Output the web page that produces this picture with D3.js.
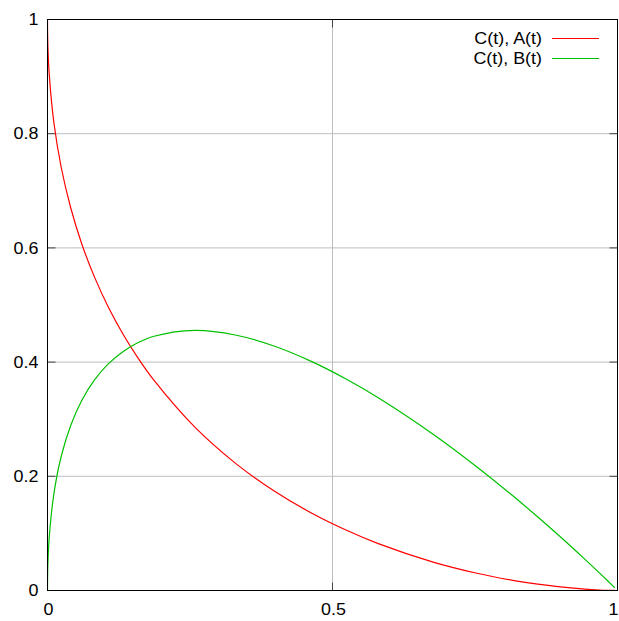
<!DOCTYPE html>
<html>
<head>
<meta charset="utf-8">
<script src="https://cdn.jsdelivr.net/npm/d3@7"></script>
<style>
  html, body { margin: 0; padding: 0; background: #fff; }
  svg { display: block; }
  text { font-family: "Liberation Sans", Arial, Helvetica, sans-serif; fill: #000; }
</style>
</head>
<body>
<svg id="chart" width="619" height="621"></svg>
<script>
// Sampled curve values along the parameter t (same index in each array)
const C_vals = [0, 0.00003, 0.00012, 0.00077, 0.00299, 0.0113, 0.0241, 0.0407, 0.0603, 0.0825,
                0.1066, 0.1323, 0.1592, 0.1870, 0.2581, 0.3294, 0.3984, 0.4638, 0.5246, 0.5803,
                0.6765, 0.7534, 0.8137, 0.8602, 0.8957, 0.9425, 0.9687, 0.9831, 0.9909, 0.9951];
const A_vals = [1, 0.9901, 0.9802, 0.9512, 0.9048, 0.8187, 0.7408, 0.6703, 0.6065, 0.5488,
                0.4966, 0.4493, 0.4066, 0.3679, 0.2865, 0.2231, 0.1738, 0.1353, 0.1054, 0.0821,
                0.0498, 0.0302, 0.0183, 0.0111, 0.0067, 0.0025, 0.0009, 0.0003, 0.0001, 0.00005];
const B_vals = [0, 0.0099, 0.0197, 0.0480, 0.0922, 0.1700, 0.2351, 0.2890, 0.3331, 0.3687,
                0.3968, 0.4183, 0.4342, 0.4452, 0.4554, 0.4474, 0.4278, 0.4009, 0.3700, 0.3376,
                0.2737, 0.2164, 0.1680, 0.1287, 0.0976, 0.0550, 0.0304, 0.0166, 0.0090, 0.0048];

const seriesNames = ["C(t), A(t)", "C(t), B(t)"];
const seriesColors = ["#ff0000", "#00c000"];
const xTicks = [0, 0.5, 1];
const xTickLabels = ["0", "0.5", "1"];
const yTicks = [0, 0.2, 0.4, 0.6, 0.8, 1];
const yTickLabels = ["0", "0.2", "0.4", "0.6", "0.8", "1"];

const svg = d3.select("#chart");
const pLeft = 47.5, pRight = 617.5, pTop = 19.5, pBottom = 590.5;

const x = d3.scaleLinear().domain([0, 1]).range([pLeft, pRight]);
const y = d3.scaleLinear().domain([0, 1]).range([pBottom, pTop]);

// grid lines
const grid = svg.append("g").attr("stroke", "#bdbdbd").attr("stroke-width", 1);
yTicks.filter(v => v > 0 && v < 1).forEach(v => {
  grid.append("line").attr("x1", pLeft).attr("x2", pRight).attr("y1", y(v)).attr("y2", y(v));
});
xTicks.filter(v => v > 0 && v < 1).forEach(v => {
  grid.append("line").attr("x1", x(v)).attr("x2", x(v)).attr("y1", pTop).attr("y2", pBottom);
});

// tick marks on all four sides, pointing inward
const tickLen = 8;
const ticks = svg.append("g").attr("stroke", "#444").attr("stroke-width", 1);
yTicks.forEach(v => {
  ticks.append("line").attr("x1", pLeft).attr("x2", pLeft + tickLen).attr("y1", y(v)).attr("y2", y(v));
  ticks.append("line").attr("x1", pRight).attr("x2", pRight - tickLen).attr("y1", y(v)).attr("y2", y(v));
});
xTicks.forEach(v => {
  ticks.append("line").attr("x1", x(v)).attr("x2", x(v)).attr("y1", pBottom).attr("y2", pBottom - tickLen);
  ticks.append("line").attr("x1", x(v)).attr("x2", x(v)).attr("y1", pTop).attr("y2", pTop + tickLen);
});

// text helper: slightly wide lettering
const fs = 16, stretch = 1.12;
function label(parent, tx, ty, str, anchor) {
  parent.append("text")
    .attr("transform", `translate(${tx},${ty}) scale(${stretch},1)`)
    .attr("dy", "0.35em")
    .attr("text-anchor", anchor).attr("font-size", fs)
    .text(str);
}

// tick labels
const yLab = svg.append("g");
yTicks.forEach((v, i) => label(yLab, pLeft - 9, y(v), yTickLabels[i], "end"));
const xLab = svg.append("g");
xTicks.forEach((v, i) => {
  const edge = v === 1;
  label(xLab, edge ? 618.5 : x(v) + 1, 609, xTickLabels[i], edge ? "end" : "middle");
});

// curves
const points = [
  C_vals.map((c, i) => [c, A_vals[i]]),
  C_vals.map((c, i) => [c, B_vals[i]])
];
const line = d3.line()
  .x(d => x(d[0])).y(d => y(d[1]))
  .curve(d3.curveCatmullRom.alpha(0.5));

svg.append("defs").append("clipPath").attr("id", "plotclip")
  .append("rect").attr("x", pLeft).attr("y", pTop).attr("width", pRight - pLeft).attr("height", pBottom - pTop + 1);

svg.append("g").attr("clip-path", "url(#plotclip)")
  .selectAll("path").data(points).join("path")
  .attr("d", line)
  .attr("fill", "none")
  .attr("stroke", (d, i) => seriesColors[i])
  .attr("stroke-width", 1.2);

// frame
svg.append("rect")
  .attr("x", pLeft).attr("y", pTop).attr("width", pRight - pLeft).attr("height", pBottom - pTop)
  .attr("fill", "none").attr("stroke", "#000").attr("stroke-width", 1);

// legend
const legend = svg.append("g");
seriesNames.forEach((name, i) => {
  const ly = 38.5 + i * 20;
  label(legend, 542, ly, name, "end");
  legend.append("line")
    .attr("x1", 552).attr("x2", 599).attr("y1", ly).attr("y2", ly)
    .attr("stroke", seriesColors[i]).attr("stroke-width", 1.2);
});
</script>
</body>
</html>
